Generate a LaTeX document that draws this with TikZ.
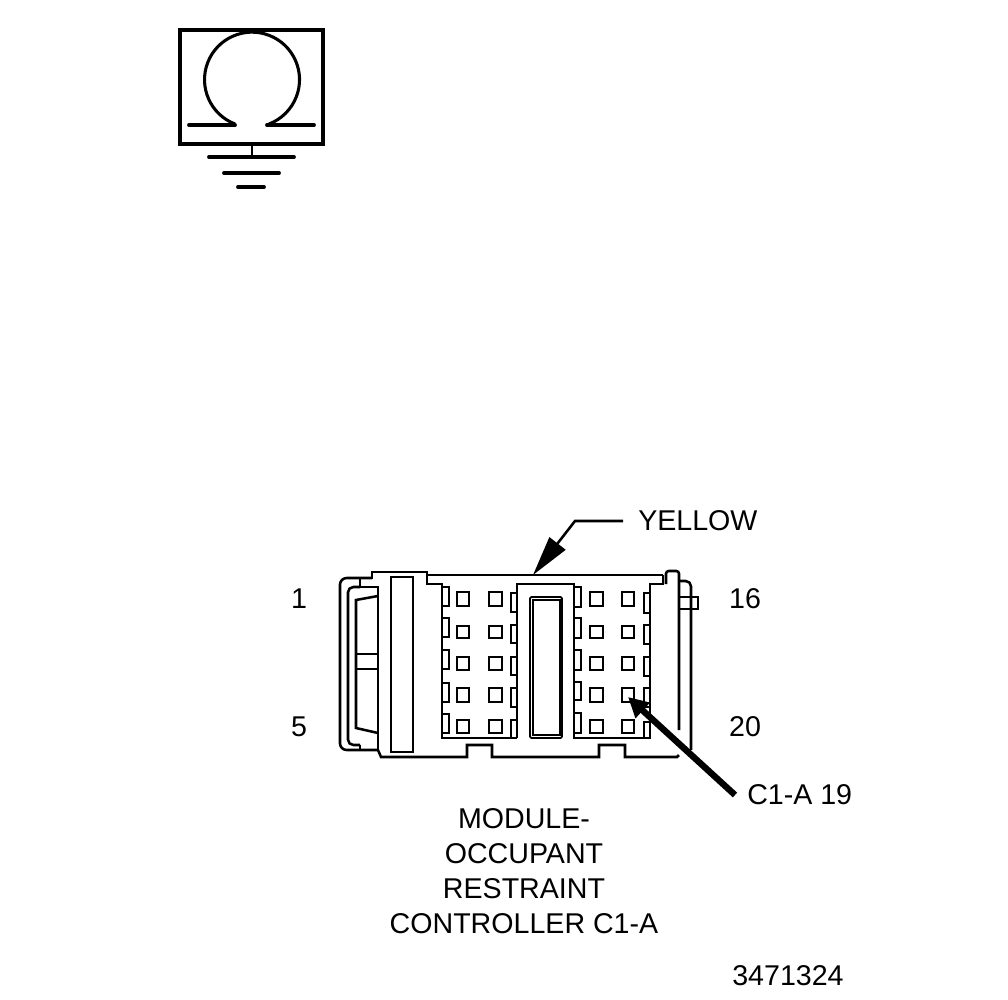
\documentclass[tikz,border=0pt]{standalone}
\usepackage{fontspec}
\setmainfont{Liberation Sans}
\usetikzlibrary{arrows.meta}
\tikzset{
	lbl/.style={inner sep=0pt, font=\fontsize{21.45}{26.25}\selectfont},
	wall/.style={line width=1.9pt, line join=miter},
	pin/.style={line width=2.1pt},
	heavy/.style={line width=2.9pt},
}
\begin{document}
\begin{tikzpicture}[x=.75pt, y=-.75pt, line cap=butt]
	\useasboundingbox (0,0) rectangle (1008,1000);
	% ground symbol
	\draw[heavy] (180,30) rectangle (323,144);
	\draw[wall, line width=2.3pt] (235,124) arc[start angle=111, end angle=429, radius=47.5];
	\draw[heavy, line cap=round] (189,125) -- (235,125);
	\draw[heavy, line cap=round] (267,125) -- (314,125);
	\draw[wall] (252,145) -- (252,157);
	\draw[heavy, line cap=round] (209,157) -- (294,157);
	\draw[heavy, line cap=round] (224,173) -- (279,173);
	\draw[heavy, line cap=round] (238,187) -- (264,187);
	% connector body
	\draw[wall] (427,575) -- (663,575);
	\draw[wall, rounded corners=5pt] (372,578) -- (340,578) -- (340,750) -- (378,750);
	\draw[wall] (360,578) -- (372,578) -- (372,572) -- (427,572) -- (427,584) -- (442,584) -- (442,738) -- (517,738);
	\draw[wall] (378,750) -- (381,757) -- (467,757) -- (467,745) -- (492,745) -- (492,757) -- (599,757) -- (599,745) -- (625,745) -- (625,757) -- (677,757) -- (679,755);
	\draw[wall, rounded corners=4pt] (360,587) -- (348,587) -- (348,745) -- (360,745);
	\draw[wall] (360,578) -- (360,587) -- (378,587) -- (378,750);
	\draw[wall] (360,745) -- (360,750);
	\draw[wall] (378,596) -- (356,600) -- (356,728) -- (378,733);
	\draw[wall] (356,654) -- (378,654);
	\draw[wall] (356,669) -- (378,669);
	\draw[wall] (391,577) rectangle (413,752);
	% centre latch
	\draw[wall] (517,738) -- (517,584) -- (574,584) -- (574,738) -- (650,738);
	\draw[wall, line width=1.4pt, rounded corners=1pt] (530,597) rectangle (562,738);
	\draw[wall, line width=1.4pt] (533,600) rectangle (560,735);
	% right end with post and tab
	\draw[wall] (650,739) -- (650,584) -- (663,584) -- (663,575);
	\draw[wall, rounded corners=2pt] (666,584) -- (666,571) -- (679,571) -- (679,730);
	\draw[wall, rounded corners=4pt] (679,581) -- (691,581) -- (691,750);
	\draw[wall] (679,597) -- (698,597) -- (698,609) -- (679,609);
	% contacts, one row per line
	\draw[pin] (457,592) rectangle (469,606) (489,592) rectangle (502,606) (590,592) rectangle (603,606) (622,592) rectangle (634,606);
	\draw[pin] (457,626) rectangle (469,638) (489,626) rectangle (502,638) (590,626) rectangle (603,638) (622,626) rectangle (634,638);
	\draw[pin] (457,657) rectangle (469,670) (489,657) rectangle (502,670) (590,657) rectangle (603,670) (622,657) rectangle (634,670);
	\draw[pin] (457,688) rectangle (469,702) (489,688) rectangle (502,702) (590,688) rectangle (603,702) (622,688) rectangle (634,702);
	\draw[pin] (457,720) rectangle (469,733) (489,720) rectangle (502,733) (590,720) rectangle (603,733) (622,720) rectangle (634,733);
	% notches along the walls
	\draw[wall] (442,587) -| (449,606) -- (442,606) (442,618) -| (449,637) -- (442,637) (442,650) -| (449,669) -- (442,669) (442,683) -| (449,702) -- (442,702) (442,714) -| (449,733) -- (442,733);
	\draw[wall] (517,593) -| (511,612) -- (517,612) (517,625) -| (511,643) -- (517,643) (517,657) -| (511,675) -- (517,675) (517,688) -| (511,707) -- (517,707) (517,720) -| (511,738);
	\draw[wall] (574,587) -| (581,607) -- (574,607) (574,618) -| (581,638) -- (574,638) (574,650) -| (581,670) -- (574,670) (574,682) -| (581,700) -- (574,700) (574,713) -| (581,733) -- (574,733);
	\draw[wall] (650,593) -| (644,613) -- (650,613) (650,625) -| (644,644) -- (650,644) (650,657) -| (644,676) -- (650,676) (650,688) -| (644,707) -- (650,707) (650,722) -| (644,739);
	% labels
	\node[lbl] (pinOne) at (299,599) {1};
	\node[lbl] (pinFive) at (299,727) {5};
	\node[lbl] (pinSixteen) at (745,599) {16};
	\node[lbl] (pinTwenty) at (745,727) {20};
	\node[lbl, anchor=west, inner xsep=11.25pt] (yellowText) at (623,521) {YELLOW};
	\node[lbl, anchor=west, inner xsep=9pt] (pinText) at (735,795) {C1-A 19};
	\node[lbl, align=center] (moduleText) at (524,871) {MODULE-\\OCCUPANT\\RESTRAINT\\CONTROLLER C1-A};
	\node[lbl] (figureText) at (788,976) {3471324};
	% leaders
	\coordinate (yellowBend) at (575,521);
	\coordinate (yellowTip) at (533,575);
	\coordinate (pinTip) at (628,697);
	\draw[wall, -{Triangle[length=30pt, width=15pt]}] (yellowText.west) -- (yellowBend) -- (yellowTip);
	\draw[line width=4.8pt, -{Triangle[length=15pt, width=15pt]}] (pinText.west) -- (pinTip);
\end{tikzpicture}
\end{document}
